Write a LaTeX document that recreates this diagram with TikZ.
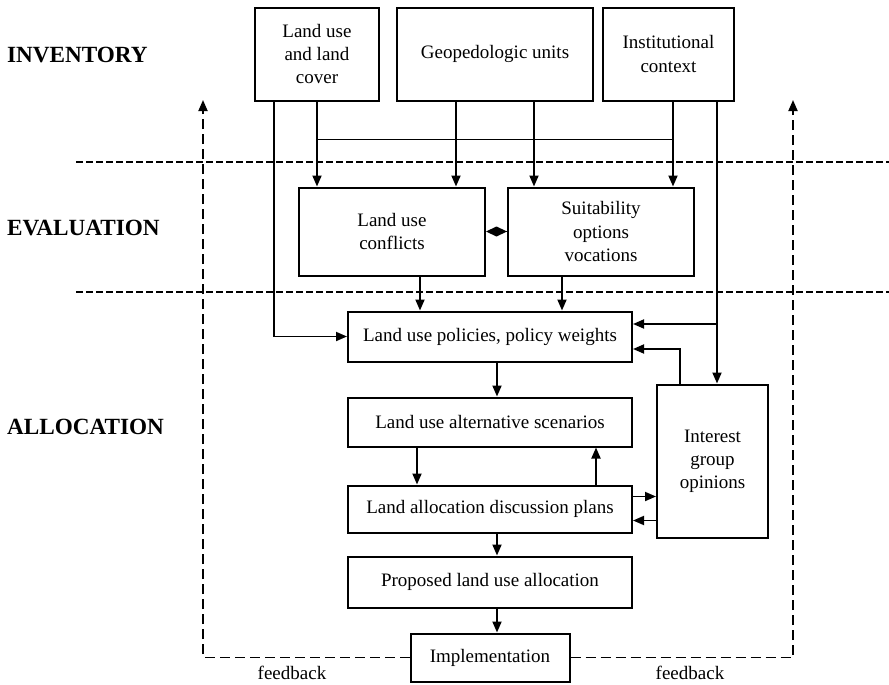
\documentclass[tikz,border=0pt]{standalone}
\usepackage{fontspec}
\setmainfont{Liberation Serif}
\usepackage{tikz}
\usetikzlibrary{positioning,arrows.meta,calc}

\begin{document}
\begin{tikzpicture}[
      font=\fontsize{9.5}{11.6}\selectfont,
      every node/.style={align=center},
      box/.style={draw, rectangle, line width=1pt, inner sep=2pt},
      topbox/.style={box, minimum height=46.5pt},
      midbox/.style={box, minimum width=93pt, minimum height=44pt},
      wide/.style={box, minimum width=142pt, minimum height=25pt},
      phase/.style={anchor=west, font=\fontsize{11.6}{13}\selectfont\bfseries},
      arr/.style={-{Triangle[length=5.5pt,width=4.5pt]}, line width=0.9pt},
      link/.style={line width=0.9pt},
      divider/.style={dash pattern=on 3.5pt off 1.5pt, line width=0.9pt},
      fb/.style={-{Triangle[length=5.5pt,width=4.5pt]}, dash pattern=on 5pt off 2.5pt, line width=0.9pt},
      dmd/.style={-{Diamond[length=10.5pt,width=5pt]}, line width=0.9pt},
    ]
    \useasboundingbox (0,0) rectangle (444.5pt,-342.5pt);

    % Policies box anchors the whole layout
    \node[wide] (pol) at (245pt,-168.25pt) {Land use policies, policy weights};

    % Evaluation row
    \node[midbox, above=17pt of pol, xshift=-49pt]  (conf) {Land use\\conflicts};
    \node[midbox, above=17pt of pol, xshift=55.5pt] (suit) {Suitability\\options\\vocations};

    % Inventory row
    \node[topbox, minimum width=62pt, above=42.5pt of conf, xshift=-37.5pt] (lu) {Land use\\and land\\cover};
    \node[topbox, minimum width=98pt, right=8pt of lu]    (geo)  {Geopedologic units};
    \node[topbox, minimum width=65.5pt, right=4pt of geo] (inst) {Institutional\\context};

    % Allocation column
    \node[wide, minimum height=24.5pt, below=17pt of pol]   (alt)  {Land use alternative scenarios};
    \node[wide, minimum height=23.5pt, below=18.5pt of alt] (disc) {Land allocation discussion plans};
    \node[wide, minimum height=25.5pt, below=11pt of disc]  (prop) {Proposed land use allocation};
    \node[box, minimum width=79.5pt, minimum height=24pt, below=12pt of prop] (impl) {Implementation};
    \node[box, minimum width=55.5pt, minimum height=76.5pt, right=11.5pt of alt, yshift=-19.5pt] (intg) {Interest\\group\\opinions};

    % Phase labels
    \node[phase] (inv)  at (0pt,-27.5pt)  {INVENTORY};
    \node[phase] (eval) at (0pt,-114pt)   {EVALUATION};
    \node[phase] (allo) at (0pt,-213.5pt) {ALLOCATION};

    % Phase dividers
    \draw[divider] (38pt,-81pt)  -- (444.5pt,-81pt);
    \draw[divider] (38pt,-146pt) -- (444.5pt,-146pt);

    % Inventory -> evaluation
    \draw[arr] ([xshift=-21.5pt]lu.south) |- (pol.west);
    \draw[arr] (lu.south) -- (lu.south |- conf.north);
    \draw[link] ([yshift=-19pt]lu.south) -- ([xshift=2.25pt,yshift=-19pt]inst.south);
    \draw[arr] ([xshift=2.25pt]inst.south) -- ([xshift=2.25pt]inst.south |- suit.north);
    \draw[arr] ([xshift=-19.5pt]geo.south) -- ([xshift=-19.5pt]geo.south |- conf.north);
    \draw[arr] ([xshift=19.5pt]geo.south) -- ([xshift=19.5pt]geo.south |- suit.north);

    % Institutional context -> interest groups and policies
    \coordinate (instR) at ([xshift=24.25pt]inst.south);
    \draw[arr] (instR) -- (instR |- intg.north);
    \draw[arr] ([yshift=6.25pt]instR |- pol.east) -- ([yshift=6.25pt]pol.east);
    \draw[arr] ([xshift=-16.25pt]intg.north) |- ([yshift=-6.25pt]pol.east);

    % Evaluation -> policies
    \draw[dmd] (suit.west) -- (conf.east);
    \draw[arr] ([xshift=14pt]conf.south) -- ([xshift=14pt]conf.south |- pol.north);
    \draw[arr] ([xshift=-19.5pt]suit.south) -- ([xshift=-19.5pt]suit.south |- pol.north);

    % Allocation chain
    \draw[arr] ([xshift=3.5pt]pol.south) -- ([xshift=3.5pt]alt.north);
    \draw[arr] ([xshift=-36.5pt]alt.south) -- ([xshift=-36.5pt]disc.north);
    \draw[arr] ([xshift=53pt]disc.north) -- ([xshift=53pt]alt.south);
    \draw[arr] ([yshift=6.25pt]disc.east) -- ([yshift=6.25pt]disc.east -| intg.west);
    \draw[arr] ([yshift=-5.75pt]disc.east -| intg.west) -- ([yshift=-5.75pt]disc.east);
    \draw[arr] ([xshift=3.5pt]disc.south) -- ([xshift=3.5pt]prop.north);
    \draw[arr] ([xshift=3.5pt]prop.south) -- ([xshift=3.5pt]prop.south |- impl.north);

    % Feedback loops
    \coordinate (fbL) at (101.5pt,-50pt);
    \coordinate (fbR) at (396.5pt,-50pt);
    \draw[fb] (impl.west) -| (fbL);
    \draw[fb] (impl.east) -| (fbR);
    \node (fbl) at (146pt,-336.5pt) {feedback};
    \node (fbr) at (345pt,-336.5pt) {feedback};

  \end{tikzpicture}
\end{document}
